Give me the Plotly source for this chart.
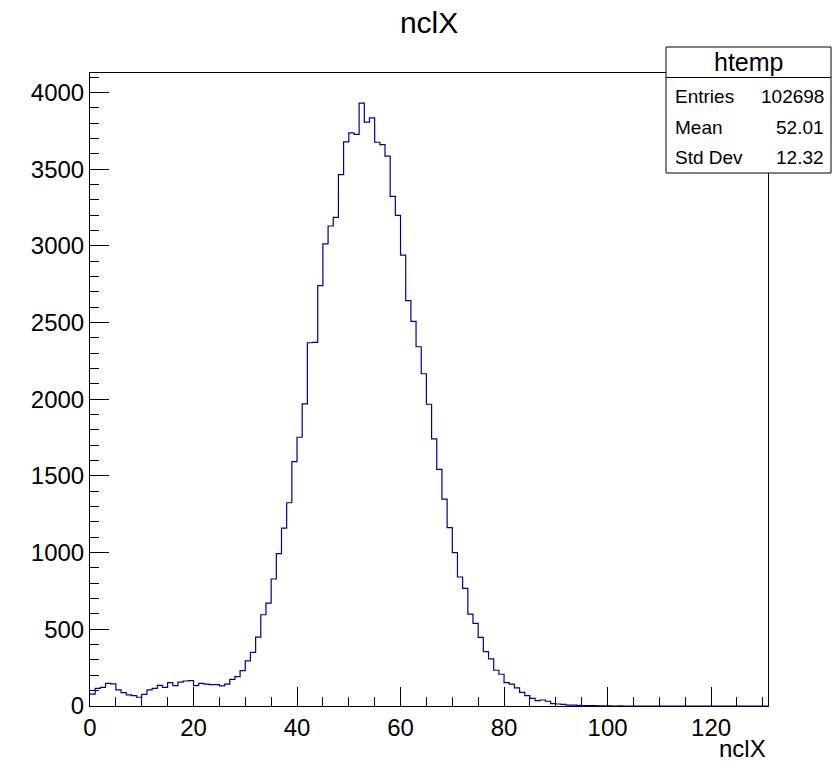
import numpy as np
import plotly.graph_objects as go

# Histogram "htemp" of nclX: 131 bins of width 1 starting at 0
bin_low = 0.0
bin_width = 1.0
counts = [
    78, 115, 122, 148, 144, 105, 87, 72, 68, 57,
    76, 105, 115, 135, 122, 152, 133, 155, 163, 165,
    133, 148, 142, 139, 139, 131, 142, 174, 192, 231,
    294, 349, 449, 595, 671,
    828, 993, 1159, 1325, 1593, 1752, 1969, 2368, 2370,
    2741, 3013, 3129, 3185, 3464, 3678, 3736, 3727, 3930, 3806,
    3834, 3675, 3660, 3584, 3322, 3198, 2939, 2643,
    2508, 2342, 2166, 1967, 1741, 1542, 1349, 1163, 1000, 841,
    767, 599, 538, 447, 355, 307, 233, 207, 152,
    142, 118, 89, 68, 50, 35, 39, 31, 15, 13, 10, 6, 6, 4,
    3, 2, 2, 1, 1, 1, 0, 1, 0, 0,
    0, 0, 0, 0, 0, 0, 0, 0, 0, 0,
    0, 0, 0, 0, 0, 0, 0, 0, 0, 0,
    0, 0, 0, 0, 0, 0,
]

title_text = "nclX"
x_title = "nclX"
stats_name = "htemp"
stats_labels = ["Entries", "Mean", "Std Dev"]
stats_values = ["102698", "52.01", "12.32"]

n_bins = len(counts)
edges = bin_low + bin_width * np.arange(n_bins + 1)
x_step = list(edges)
y_step = list(counts) + [counts[-1]]

x_max = edges[-1]
y_max = max(counts) * 1.05

FONT = "Liberation Sans, Arial, Helvetica, sans-serif"

fig = go.Figure()
fig.add_trace(go.Scatter(
    x=x_step, y=y_step, mode="lines",
    line=dict(color="#000099", width=1.2, shape="hv"),
    hoverinfo="skip", showlegend=False,
))

W, H = 832, 763
ml, mr, mt, mb = 90, 64, 73, 57
pw = W - ml - mr
ph = H - mt - mb

def px(x):
    return (x - ml) / pw

def py(y):
    return (H - mb - y) / ph

fig.update_layout(
    width=W, height=H,
    margin=dict(l=ml, r=mr, t=mt, b=mb, pad=0),
    paper_bgcolor="white", plot_bgcolor="white",
    font=dict(family=FONT, color="black"),
    title=dict(text=title_text, x=0.5157, xanchor="center", y=1 - 22 / H,
               yanchor="middle", font=dict(size=30, family=FONT)),
    xaxis=dict(
        range=[0, x_max], showgrid=False, zeroline=False,
        showline=True, linecolor="black", linewidth=1, mirror=True,
        ticks="inside", ticklen=19, tickcolor="black", tickwidth=1,
        dtick=20, tick0=0, tickfont=dict(size=24, family=FONT),
        minor=dict(dtick=5, ticks="inside", ticklen=9, tickcolor="black", tickwidth=1, showgrid=False),
    ),
    yaxis=dict(
        range=[0, y_max], showgrid=False, zeroline=False,
        showline=True, linecolor="black", linewidth=1, mirror=True,
        ticks="inside", ticklen=19, tickcolor="black", tickwidth=1,
        dtick=500, tick0=0, tickfont=dict(size=24, family=FONT),
        minor=dict(dtick=100, ticks="inside", ticklen=9, tickcolor="black", tickwidth=1, showgrid=False),
    ),
)

# axis title at right end of x axis
fig.add_annotation(text=x_title, xref="paper", yref="paper",
                   x=1.0, y=py(748), xanchor="right", yanchor="middle",
                   showarrow=False, font=dict(size=24, family=FONT))

# stats box
bx0, bx1, by0, by1 = 666, 831, 47, 173
fig.add_shape(type="rect", xref="paper", yref="paper",
              x0=px(bx0), x1=px(bx1), y0=py(by1), y1=py(by0),
              line=dict(color="black", width=1), fillcolor="white", layer="above")
fig.add_shape(type="line", xref="paper", yref="paper",
              x0=px(bx0), x1=px(bx1), y0=py(77.5), y1=py(77.5),
              line=dict(color="black", width=1), layer="above")
fig.add_annotation(text=stats_name, xref="paper", yref="paper",
                   x=px((bx0 + bx1) / 2), y=py(62), xanchor="center", yanchor="middle",
                   showarrow=False, font=dict(size=25, family=FONT))
row_y = [96, 127, 157]
for lab, val, yy in zip(stats_labels, stats_values, row_y):
    fig.add_annotation(text=lab, xref="paper", yref="paper",
                       x=px(673), y=py(yy), xanchor="left", yanchor="middle",
                       showarrow=False, font=dict(size=19, family=FONT))
    fig.add_annotation(text=val, xref="paper", yref="paper",
                       x=px(826), y=py(yy), xanchor="right", yanchor="middle",
                       showarrow=False, font=dict(size=19, family=FONT))

fig.write_html("out.html")
